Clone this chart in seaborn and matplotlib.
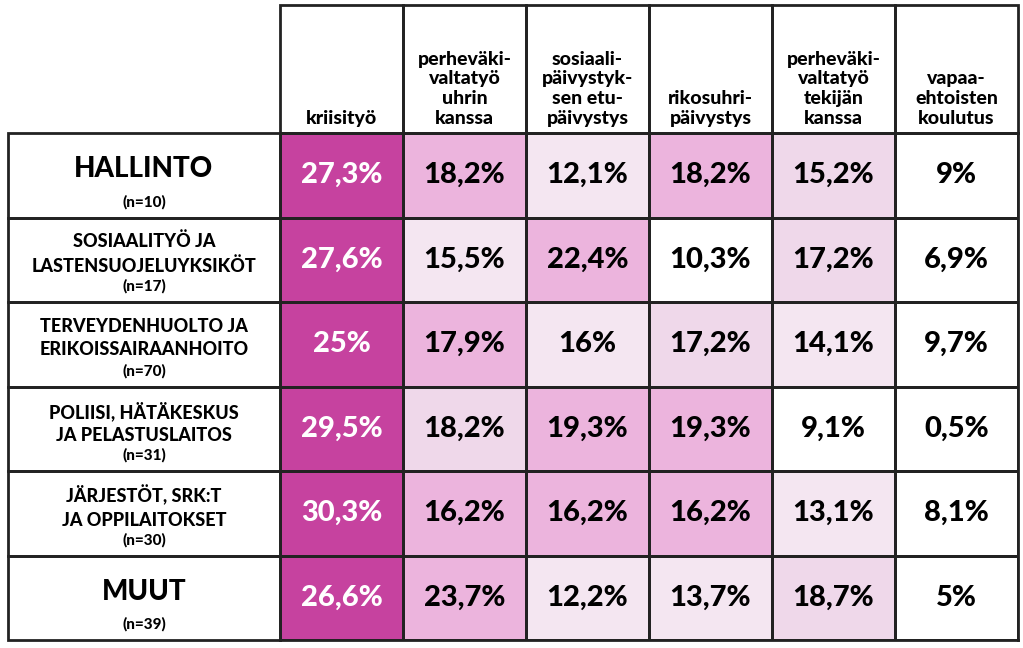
import numpy as np
import pandas as pd
import matplotlib
matplotlib.use("Agg")
import matplotlib.pyplot as plt
from matplotlib.colors import ListedColormap
from matplotlib.patches import Rectangle
import seaborn as sns

columns = ["kriisityö", "perheväki-\nvaltatyö\nuhrin\nkanssa", "sosiaali-\npäivystyk-\nsen etu-\npäivystys",
           "rikosuhri-\npäivystys", "perheväki-\nvaltatyö\ntekijän\nkanssa", "vapaa-\nehtoisten\nkoulutus"]
rows = ["HALLINTO", "SOSIAALITYÖ JA\nLASTENSUOJELUYKSIKÖT", "TERVEYDENHUOLTO JA\nERIKOISSAIRAANHOITO",
        "POLIISI, HÄTÄKESKUS\nJA PELASTUSLAITOS", "JÄRJESTÖT, SRK:T\nJA OPPILAITOKSET", "MUUT"]
sizes = ["(n=10)", "(n=17)", "(n=70)", "(n=31)", "(n=30)", "(n=39)"]
big_row = [True, False, False, False, False, True]

labels = [["27,3%", "18,2%", "12,1%", "18,2%", "15,2%", "9%"],
          ["27,6%", "15,5%", "22,4%", "10,3%", "17,2%", "6,9%"],
          ["25%", "17,9%", "16%", "17,2%", "14,1%", "9,7%"],
          ["29,5%", "18,2%", "19,3%", "19,3%", "9,1%", "0,5%"],
          ["30,3%", "16,2%", "16,2%", "16,2%", "13,1%", "8,1%"],
          ["26,6%", "23,7%", "12,2%", "13,7%", "18,7%", "5%"]]
# shade level of each cell (0 = white ... 4 = magenta)
shade = [[4, 3, 1, 3, 2, 0],
         [4, 1, 3, 0, 2, 0],
         [4, 3, 1, 2, 1, 0],
         [4, 2, 3, 3, 0, 0],
         [4, 3, 3, 3, 1, 0],
         [4, 3, 1, 1, 2, 0]]

plt.rcParams["font.family"] = "Lato"
W, H = 1023, 648
fig = plt.figure(figsize=(W / 100, H / 100), dpi=100)
x0, x1, y_top, y_bot = 280, 1018, 133, 640
ax = fig.add_axes([x0 / W, (H - y_bot) / H, (x1 - x0) / W, (y_bot - y_top) / H])

cmap = ListedColormap(["#FFFFFF", "#F4E6F1", "#EFD8EA", "#ECB4DD", "#C6429F"])
df = pd.DataFrame(shade, index=rows, columns=columns)
sns.heatmap(df, ax=ax, cmap=cmap, vmin=-0.5, vmax=4.5, cbar=False,
            annot=np.array(labels), fmt="", linewidths=2, linecolor="#222222",
            annot_kws={"fontsize": 21, "fontweight": "heavy", "color": "black"})
for t in ax.texts:
    x, y = t.get_position()
    if int(x) == 0:
        t.set_color("white")
ax.set_xticks([])
ax.set_yticks([])
ax.set_xlabel("")
ax.set_ylabel("")
for s in ax.spines.values():
    s.set_visible(True)
    s.set_linewidth(2)
    s.set_color("#222222")

# header cells
cw = (x1 - x0) / len(columns)
for i, c in enumerate(columns):
    left = x0 + i * cw
    fig.patches.append(Rectangle((left / W, (H - y_top) / H), cw / W, (y_top - 5) / H,
                                 transform=fig.transFigure, fill=False, lw=2, ec="#222222"))
    fig.text((left + cw / 2) / W, (H - 127) / H, c, ha="center", va="bottom",
             fontsize=14, fontweight="heavy", linespacing=1.2)

# row label cells
rh = (y_bot - y_top) / len(rows)
for j, r in enumerate(rows):
    top = y_top + j * rh
    fig.patches.append(Rectangle((8 / W, (H - top - rh) / H), (x0 - 8) / W, rh / H,
                                 transform=fig.transFigure, fill=False, lw=2, ec="#222222"))
    cx = (8 + x0) / 2 / W
    if big_row[j]:
        fig.text(cx, (H - top - 36) / H, r, ha="center", va="center", fontsize=20, fontweight="heavy")
    else:
        fig.text(cx, (H - top - 36) / H, r, ha="center", va="center", fontsize=13,
                 fontweight="heavy", linespacing=1.45)
    fig.text(cx, (H - top - 69) / H, sizes[j], ha="center", va="center", fontsize=11, fontweight="heavy")

fig.savefig("out.png", dpi=100)
